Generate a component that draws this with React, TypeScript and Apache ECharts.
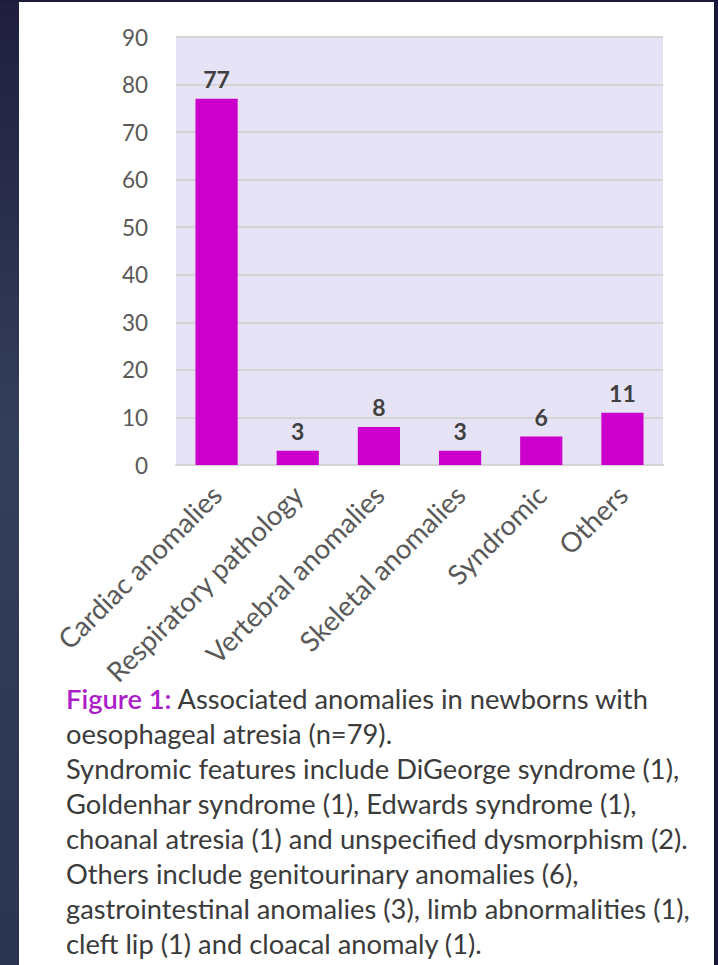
import React, { useEffect, useRef } from "react";
import * as echarts from "echarts";

const categories = [
  "Cardiac anomalies",
  "Respiratory pathology",
  "Vertebral anomalies",
  "Skeletal anomalies",
  "Syndromic",
  "Others",
];
const counts = [77, 3, 8, 3, 6, 11];
const yTicks = { min: 0, max: 90, interval: 10 };

const captionTitle = "Figure 1:";
const captionLines = [
  " Associated anomalies in newborns with",
  "oesophageal atresia (n=79).",
  "Syndromic features include DiGeorge syndrome (1),",
  "Goldenhar syndrome (1), Edwards syndrome (1),",
  "choanal atresia (1) and unspecified dysmorphism (2).",
  "Others include genitourinary anomalies (6),",
  "gastrointestinal anomalies (3), limb abnormalities (1),",
  "cleft lip (1) and cloacal anomaly (1).",
];

const FONT = "Lato, 'Open Sans', sans-serif";

export default function App() {
  const ref = useRef<HTMLDivElement>(null);

  useEffect(() => {
    if (!ref.current) return;
    const chart = echarts.init(ref.current, null, { renderer: "svg" });

    const captionText =
      "{title|" + captionTitle + "}{body|" + captionLines[0] + "}\n" +
      captionLines.slice(1).map((l) => "{body|" + l + "}").join("\n");

    chart.setOption({
      animation: false,
      backgroundColor: "#ffffff",
      grid: {
        left: 176,
        right: 55,
        top: 37,
        bottom: 500,
        show: true,
        backgroundColor: "#e6e3f7",
        borderWidth: 0,
      },
      xAxis: {
        type: "category",
        data: categories,
        axisTick: { show: false },
        axisLine: { lineStyle: { color: "#d4d4d4", width: 2 } },
        axisLabel: {
          rotate: 45,
          interval: 0,
          margin: 25,
          color: "#595959",
          fontFamily: FONT,
          fontSize: 27.5,
        },
      },
      yAxis: {
        type: "value",
        min: yTicks.min,
        max: yTicks.max,
        interval: yTicks.interval,
        axisLine: { show: false },
        axisTick: { show: false },
        splitLine: { lineStyle: { color: "#d4d4d4", width: 2 } },
        axisLabel: {
          margin: 28,
          color: "#595959",
          fontFamily: FONT,
          fontSize: 22.5,
        },
      },
      series: [
        {
          type: "bar",
          data: counts,
          barWidth: "52%",
          itemStyle: { color: "#cc00cc" },
          label: {
            show: true,
            position: "top",
            distance: 8,
            color: "#404040",
            fontFamily: FONT,
            fontWeight: "bold",
            fontSize: 23,
          },
        },
      ],
      graphic: [
        // slide background strips around the white panel
        {
          type: "rect",
          left: 0,
          top: 0,
          shape: { width: 19, height: 965 },
          style: {
            fill: new echarts.graphic.LinearGradient(0, 0, 0, 1, [
              { offset: 0, color: "#1f1f3d" },
              { offset: 0.45, color: "#343f5a" },
              { offset: 1, color: "#2b3452" },
            ]),
          },
          z: 100,
        },
        {
          type: "rect",
          left: 0,
          top: 0,
          shape: { width: 718, height: 2 },
          style: { fill: "#1c1b3a" },
          z: 100,
        },
        {
          type: "rect",
          left: 714,
          top: 0,
          shape: { width: 4, height: 965 },
          style: { fill: "#18173a" },
          z: 100,
        },
        {
          type: "text",
          left: 66,
          top: 685,
          style: {
            text: captionText,
            rich: {
              title: {
                fill: "#ac1ec8",
                fontFamily: FONT,
                fontSize: 27.3,
                fontWeight: 600,
                lineHeight: 35,
              },
              body: {
                fill: "#3b3b3b",
                fontFamily: FONT,
                fontSize: 27.3,
                lineHeight: 35,
              },
            },
          },
        },
      ],
    });

    return () => chart.dispose();
  }, []);

  return (
    <div
      ref={ref}
      style={{ position: "fixed", left: 0, top: 0, width: 718, height: 965 }}
    />
  );
}
